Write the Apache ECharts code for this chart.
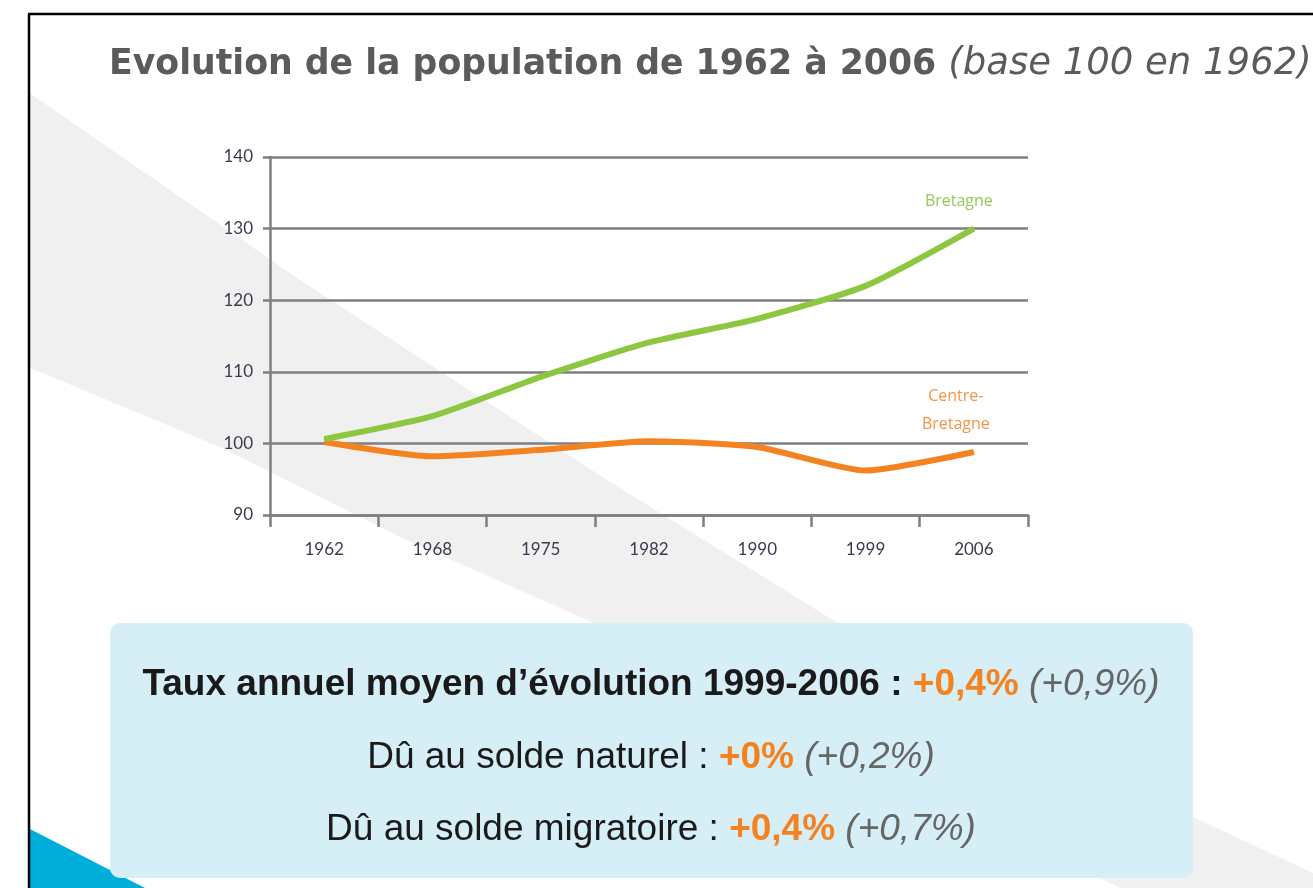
<!DOCTYPE html>
<html>
<head>
<meta charset="utf-8">
<script src="https://cdn.jsdelivr.net/npm/echarts@6/dist/echarts.min.js"></script>
<style>
  html, body { margin : 0; padding : 0; background : #fff; }
  #main { width : 1313px; height : 888px; }
</style>
</head>
<body>
<div id="main"></div>
<script>
// données (base 100 en 1962)
var years = [ '1962', '1968', '1975', '1982', '1990', '1999', '2006' ];
var bretagne = [ 100.6, 103.8, 109.3, 114.1, 117.4, 122.0, 130.0 ];
var centreBretagne = [ 100.2, 98.2, 99.1, 100.3, 99.5, 96.2, 98.8 ];
var yMin = 90, yMax = 140, yStep = 10;

// encadré des taux
var tauxTotal = [ '+0,4%', '(+0,9%)' ];
var tauxNaturel = [ '+0%', '(+0,2%)' ];
var tauxMigratoire = [ '+0,4%', '(+0,7%)' ];

var green = '#8dc63f';
var orange = '#f58220';
var axisGrey = '#7f7f82';
var boxFont = '"Liberation Sans", sans-serif';

var myChart = echarts.init(document.getElementById('main'));

// met une étiquette sur le dernier point seulement
function withEndLabel(values, text, color, offset) {
  return values.map(function(v, i) {
    if (i != values.length - 1)
      return v;
    return {
      value : v,
      label : {
        show : true,
        position : 'top',
        offset : offset,
        formatter : text,
        color : color,
        fontFamily : 'Open Sans',
        fontSize : 16,
        lineHeight : 28,
        align : 'center'
      }
    };
  });
}

// styles zrender (fill et non color)
var richBox = {
  n : { fontFamily : boxFont, fontSize : 37, fill : '#1a1a1a' },
  b : { fontFamily : boxFont, fontSize : 37, fill : '#1a1a1a', fontWeight : 'bold' },
  o : { fontFamily : boxFont, fontSize : 37, fill : orange, fontWeight : 'bold' },
  g : { fontFamily : boxFont, fontSize : 37, fill : '#666', fontStyle : 'italic' }
};

var option = {
  backgroundColor : '#fff',
  animation : false,
  title : {
    left : 104,
    top : 41,
    text : '{a|Evolution de la population de 1962 à 2006 }{b|(base 100 en 1962)}',
    textStyle : {
      rich : {
        a : { fontFamily : 'DejaVu Sans', fontWeight : 'bold', fontSize : 34.7, color : '#5b5b5b' },
        b : { fontFamily : 'DejaVu Sans', fontWeight : 'normal', fontStyle : 'italic', fontSize : 37, color : '#5b5b5b' }
      }
    }
  },
  grid : {
    left : 270,
    right : 285,
    top : 157,
    bottom : 373
  },
  xAxis : [ {
    type : 'category',
    boundaryGap : true,
    data : years,
    axisLine : { lineStyle : { color : axisGrey, width : 2.5 } },
    axisTick : { show : true, length : 12, lineStyle : { color : axisGrey, width : 2.5 } },
    axisLabel : { margin : 26, color : '#3c3a4e', fontFamily : 'Lato', fontSize : 17 }
  } ],
  yAxis : [ {
    type : 'value',
    min : yMin,
    max : yMax,
    interval : yStep,
    axisLine : { show : true, lineStyle : { color : axisGrey, width : 2.5 } },
    axisTick : { show : true, length : 7, lineStyle : { color : axisGrey, width : 2.5 } },
    axisLabel : { margin : 17, color : '#3c3a4e', fontFamily : 'Lato', fontSize : 17 },
    splitLine : { show : true, lineStyle : { color : axisGrey, width : 2.5 } }
  } ],
  series : [ {
    name : 'Centre-Bretagne',
    type : 'line',
    smooth : 0.2,
    symbol : 'circle',
    symbolSize : 1,
    showSymbol : true,
    itemStyle : { color : orange },
    lineStyle : { color : orange, width : 6 },
    data : withEndLabel(centreBretagne, 'Centre-\nBretagne', '#f7924a', [ -18, -8 ])
  }, {
    name : 'Bretagne',
    type : 'line',
    smooth : 0.2,
    symbol : 'circle',
    symbolSize : 1,
    showSymbol : true,
    itemStyle : { color : green },
    lineStyle : { color : green, width : 6 },
    data : withEndLabel(bretagne, 'Bretagne', '#97c956', [ -15, -8 ])
  } ],
  graphic : [
    // bande grise en diagonale
    {
      type : 'polygon',
      z : -10,
      shape : {
        points : [ [ 28, 92 ], [ 300, 280 ], [ 607, 480 ], [ 833, 620 ], [ 1193, 817 ],
            [ 1313, 873 ], [ 1313, 888 ], [ 1120, 888 ], [ 587, 620 ], [ 407, 540 ],
            [ 220, 447 ], [ 28, 367 ] ]
      },
      style : { fill : '#f0f0f0' }
    },
    // coin bleu
    {
      type : 'polygon',
      z : 5,
      shape : { points : [ [ 28, 828 ], [ 145, 888 ], [ 28, 888 ] ] },
      style : { fill : '#00aedb' }
    },
    // cadre noir
    {
      type : 'line',
      z : 20,
      shape : { x1 : 28, y1 : 14, x2 : 1313, y2 : 14 },
      style : { stroke : '#000', lineWidth : 2.5 }
    }, {
      type : 'line',
      z : 20,
      shape : { x1 : 29, y1 : 14, x2 : 29, y2 : 888 },
      style : { stroke : '#000', lineWidth : 2.5 }
    },
    // encadré
    {
      type : 'rect',
      z : 10,
      shape : { x : 110, y : 623, width : 1083, height : 255, r : 10 },
      style : { fill : '#d6eef6' }
    }, {
      type : 'text',
      z : 11,
      x : 651,
      y : 685,
      style : {
        text : '{b|Taux annuel moyen d\u2019évolution 1999-2006 : }{o|' + tauxTotal[0] + '}{g| ' + tauxTotal[1] + '}',
        rich : richBox,
        align : 'center',
        verticalAlign : 'middle'
      }
    }, {
      type : 'text',
      z : 11,
      x : 651,
      y : 758,
      style : {
        text : '{n|Dû au solde naturel : }{o|' + tauxNaturel[0] + '}{g| ' + tauxNaturel[1] + '}',
        rich : richBox,
        align : 'center',
        verticalAlign : 'middle'
      }
    }, {
      type : 'text',
      z : 11,
      x : 651,
      y : 830,
      style : {
        text : '{n|Dû au solde migratoire : }{o|' + tauxMigratoire[0] + '}{g| ' + tauxMigratoire[1] + '}',
        rich : richBox,
        align : 'center',
        verticalAlign : 'middle'
      }
    }
  ]
};
myChart.setOption(option);
</script>
</body>
</html>
